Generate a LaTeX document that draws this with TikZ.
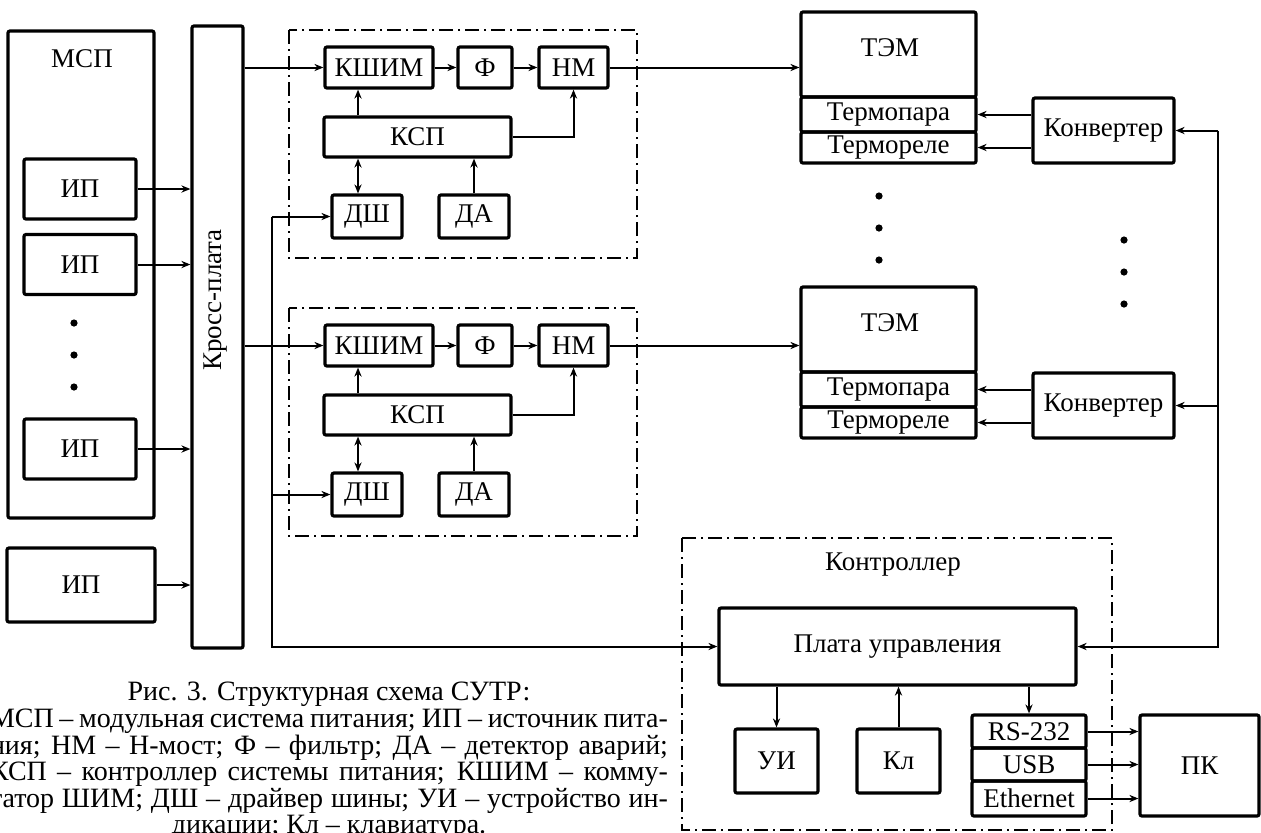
\documentclass[tikz,border=0pt]{standalone}
\usepackage{fontspec}
\setmainfont{Liberation Serif}
\usetikzlibrary{arrows.meta}
\tikzset{
  blk/.style={draw,line width=1.6pt,rounded corners=1pt,inner sep=0pt,
    font=\fontsize{13.5}{15}\selectfont},
  sz/.style 2 args={minimum width=#1*0.5pt,minimum height=#2*0.5pt},
  lbl/.style={inner sep=0pt,font=\fontsize{13.5}{15}\selectfont},
  conn/.style={->,line width=1pt},
  dashdot/.style={line width=0.9pt,dash pattern=on 7pt off 2.5pt on 1pt off 2.5pt},
  capt/.style={inner sep=0pt,align=left,font=\fontsize{14}{13.3}\selectfont},
  every picture/.style={>={Stealth[length=4.5pt,width=3.6pt]}}
}

\begin{document}
\begin{tikzpicture}[x=0.5pt,y=-0.5pt]
  \useasboundingbox (0,0) rectangle (1261,832);
  \coordinate (busx) at (271.5,0);
  \coordinate (rbus) at (1218,0);
  % power sources and cross board
  \node[blk,sz={146}{487}] (msp) at (81,274.5) {};
  \node[lbl] (mspt) at (82,59) {МСП};
  \foreach \y/\n in {189/1,264.5/2,449/3}
    \node[blk,sz={112}{60}] (ip\n) at (80,\y) {ИП};
  \node[blk,sz={148}{74}] (ip4) at (81,585) {ИП};
  \foreach \y in {323,355,387}
    \fill (74,\y) circle (1.8pt);
  \node[blk,sz={51}{622}] (kp) at (217.5,337) {};
  \node[lbl,rotate=90] (kpt) at (216,300) {Кросс-плата};
  \foreach \n in {1,...,4}
    \draw[conn] (ip\n.east) -- (ip\n.east -| kp.west);
  % power modules
  \foreach \d/\i in {0/1,278/2} {
    \draw[dashdot] (289,30+\d) rectangle (637,258+\d);
    \node[blk,sz={108}{41}] (kshim\i) at (379,67.5+\d) {КШИМ};
    \node[blk,sz={54}{41}] (f\i) at (485,67.5+\d) {Ф};
    \node[blk,sz={69}{41}] (hm\i) at (573.5,67.5+\d) {НМ};
    \node[blk,sz={187}{40}] (ksp\i) at (417.5,137+\d) {КСП};
    \node[blk,sz={70}{43}] (dsh\i) at (367,216.5+\d) {ДШ};
    \node[blk,sz={70}{43}] (da\i) at (474,216.5+\d) {ДА};
    \draw[conn] (kshim\i.west -| kp.east) -- (kshim\i.west);
    \draw[conn] (kshim\i) -- (f\i);
    \draw[conn] (f\i) -- (hm\i);
    \draw[conn] (ksp\i.north -| 358,0) -- (kshim\i.south -| 358,0);
    \draw[<->,line width=1pt] (ksp\i.south -| 358,0) -- (dsh\i.north -| 358,0);
    \draw[conn] (da\i.north) -- (da\i.north |- ksp\i.south);
    \draw[conn] (ksp\i.east) -| (hm\i.south);
    \draw[conn] (dsh\i.west -| busx) -- (dsh\i.west);
  }
  % thermoelectric modules
  \foreach \d/\i in {0/1,275/2} {
    \node[blk,sz={175}{85}] (tem\i) at (888.5,54.5+\d) {};
    \node[lbl] (temt\i) at (890,48+\d) {ТЭМ};
    \node[blk,sz={175}{35}] (tp\i) at (888.5,114.5+\d) {Термопара};
    \node[blk,sz={175}{31}] (tr\i) at (888.5,147.5+\d) {Термореле};
    \node[blk,sz={141}{65}] (conv\i) at (1103.5,130.5+\d) {Конвертер};
    \draw[conn] (hm\i.east) -- (hm\i.east -| tem\i.west);
    \draw[conn] (conv\i.west |- tp\i) -- (tp\i.east);
    \draw[conn] (conv\i.west |- tr\i) -- (tr\i.east);
    \draw[conn] (rbus |- conv\i) -- (conv\i.east);
  }
  \foreach \y in {196,228,260}
    \fill (879,\y) circle (1.8pt);
  \foreach \y in {240,272,304}
    \fill (1124,\y) circle (1.8pt);
  % controller
  \draw[dashdot] (682,538) rectangle (1112,830);
  \node[lbl] (ctrl) at (893,565) {Контроллер};
  \node[blk,sz={357}{77}] (pu) at (897.5,646.5) {Плата управления};
  \node[blk,sz={83}{64}] (ui) at (776.5,761) {УИ};
  \node[blk,sz={83}{64}] (kl) at (898.5,761) {Кл};
  \node[blk,sz={114}{33}] (rs) at (1029,731.5) {RS-232};
  \node[blk,sz={114}{33}] (usb) at (1029,764.5) {USB};
  \node[blk,sz={114}{35}] (eth) at (1029,798.5) {Ethernet};
  \node[blk,sz={119}{101}] (pk) at (1199.5,765.5) {ПК};
  \draw[conn] (pu.south -| ui) -- (ui.north);
  \draw[conn] (kl.north) -- (kl.north |- pu.south);
  \draw[conn] (pu.south -| rs) -- (rs.north);
  \foreach \n in {rs,usb,eth}
    \draw[conn] (\n.east) -- (\n.east -| pk.west);
  \draw[conn] (dsh1.west -| busx) |- (pu.west);
  \draw[conn] (rbus |- conv1) |- (pu.east);
  % caption
  \node[capt,anchor=north] (cap) at (329,682) {%
    \makebox[339pt][c]{Рис. 3. Структурная схема СУТР:}\\
    \makebox[339pt][s]{МСП – модульная система питания; ИП – источник пита-}\\
    \makebox[339pt][s]{ния; НМ – Н-мост; Ф – фильтр; ДА – детектор аварий;}\\
    \makebox[339pt][s]{КСП – контроллер системы питания; КШИМ – комму-}\\
    \makebox[339pt][s]{татор ШИМ; ДШ – драйвер шины; УИ – устройство ин-}\\
    \makebox[339pt][c]{дикации; Кл – клавиатура.}};
\end{tikzpicture}
\end{document}
